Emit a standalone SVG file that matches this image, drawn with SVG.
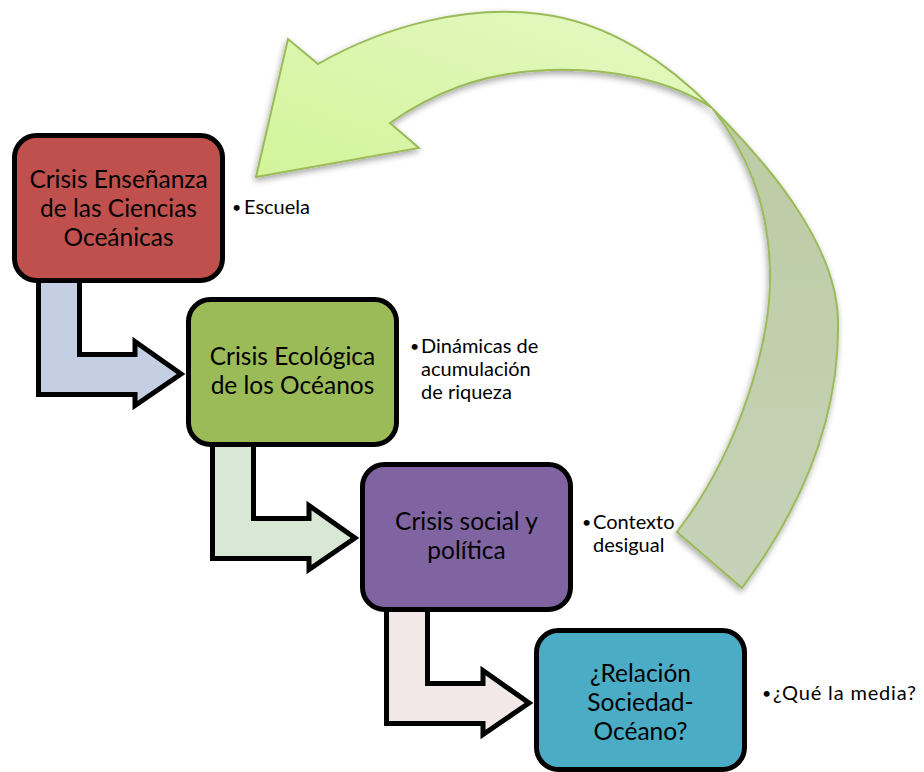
<svg xmlns="http://www.w3.org/2000/svg" width="924" height="772" viewBox="0 0 924 772">
<style>
.box{stroke:#000;stroke-width:5}
.bent{stroke:#000;stroke-width:5;stroke-linejoin:miter}
.bt{font-family:Lato,"Liberation Sans",sans-serif;font-size:24.5px;fill:#000;text-anchor:middle}
.st{font-family:Lato,"Liberation Sans",sans-serif;font-size:20px;fill:#000}
.bu{font-family:Lato,"Liberation Sans",sans-serif;font-size:16px;fill:#000}
.big{stroke:#9bbb59;stroke-width:2;stroke-linejoin:miter}
</style>
<defs>
<linearGradient id="gLight" x1="0" y1="1" x2="1" y2="0">
<stop offset="0" stop-color="#d3f49a"/>
<stop offset="1" stop-color="#e4f9c4"/>
</linearGradient>
<linearGradient id="gDark" x1="0" y1="0" x2="0" y2="1">
<stop offset="0" stop-color="#bccca3"/>
<stop offset="1" stop-color="#c6d2b8"/>
</linearGradient>
<filter id="sh" x="-10%" y="-10%" width="120%" height="120%">
<feDropShadow dx="-1" dy="3" stdDeviation="3" flood-color="#000" flood-opacity="0.35"/>
</filter>
<path id="bentArrow" d="M38.5,276 V394.5 H135 V405.5 L181,374 L135,341.5 V354.5 H79.5 V276 Z"/>
</defs>

<g id="curvedArrow" filter="url(#sh)">
<path class="big" fill="url(#gDark)" d="M712,108 C762,158 836,240 838,320 C840,420 800,510 742,588 L677,532 C740,450 772,340 770,270 C768,200 745,150 712,108 Z"/>
<path class="big" fill="url(#gLight)" d="M256,177 L288,39 L318,64 C388,24 470,5 540,14 C610,22 670,65 712,108 C670,80 610,68 550,70 C480,72 430,95 390,123 L419,148 Z"/>
</g>

<g id="connectors">
<use href="#bentArrow" class="bent" fill="#c5cfe3"/>
<use href="#bentArrow" class="bent" fill="#d8e8d4" transform="translate(174,164)"/>
<use href="#bentArrow" class="bent" fill="#f2e8e7" transform="translate(348,329)"/>
</g>

<g id="node1">
<rect class="box" x="14.5" y="135.5" width="208" height="145" rx="22" fill="#c0504d"/>
<text class="bt" x="118.5" y="188">Crisis Enseñanza</text>
<text class="bt" x="118.5" y="217">de las Ciencias</text>
<text class="bt" x="118.5" y="246">Oceánicas</text>
</g>
<g id="node2">
<rect class="box" x="188.5" y="299.5" width="208" height="145" rx="22" fill="#9bbb59"/>
<text class="bt" x="292.5" y="365">Crisis Ecológica</text>
<text class="bt" x="292.5" y="394">de los Océanos</text>
</g>
<g id="node3">
<rect class="box" x="362.5" y="464.5" width="208" height="145" rx="22" fill="#8064a2"/>
<text class="bt" x="466.5" y="530">Crisis social y</text>
<text class="bt" x="466.5" y="559">política</text>
</g>
<g id="node4">
<rect class="box" x="536.5" y="630.5" width="208" height="139" rx="22" fill="#4bacc6"/>
<text class="bt" x="640.5" y="682">¿Relación</text>
<text class="bt" x="640.5" y="711">Sociedad-</text>
<text class="bt" x="640.5" y="740">Océano?</text>
</g>

<g id="note1">
<text class="bu" x="232" y="213">•</text>
<text class="st" x="244" y="214">Escuela</text>
</g>
<g id="note2">
<text class="bu" x="410" y="352">•</text>
<text class="st" x="421" y="353">Dinámicas de</text>
<text class="st" x="421" y="376">acumulación</text>
<text class="st" x="421" y="399">de riqueza</text>
</g>
<g id="note3">
<text class="bu" x="582" y="528">•</text>
<text class="st" x="593" y="529">Contexto</text>
<text class="st" x="593" y="552">desigual</text>
</g>
<g id="note4">
<text class="bu" x="762" y="699">•</text>
<text class="st" x="773" y="700" textLength="143" lengthAdjust="spacing">¿Qué la media?</text>
</g>
</svg>
